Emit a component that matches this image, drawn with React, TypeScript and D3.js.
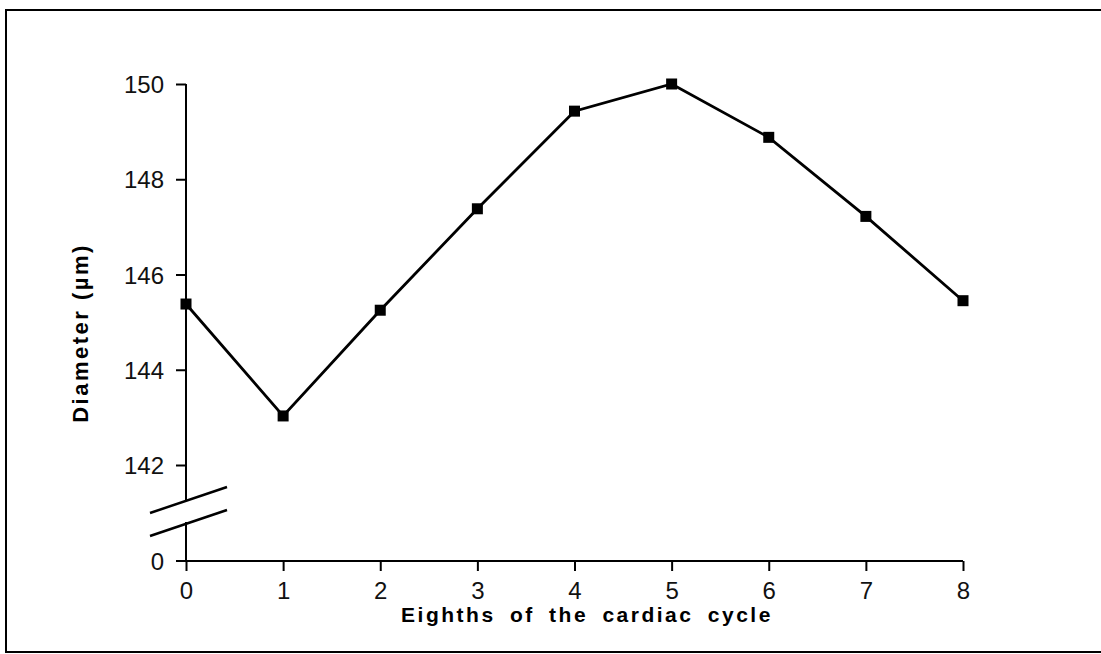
import React, { useEffect, useRef } from 'react';
import * as d3 from 'd3';

// eighths of the cardiac cycle (x) and vessel diameter in µm (y)
const eighths = [0, 1, 2, 3, 4, 5, 6, 7, 8];
const diameter = [145.38, 143.03, 145.25, 147.38, 149.43, 150.0, 148.88, 147.22, 145.45];
const yTicks = [142, 144, 146, 148, 150];
const xTicks = [0, 1, 2, 3, 4, 5, 6, 7, 8];

const W = 1101;
const H = 654;

const App: React.FC = () => {
  const svgRef = useRef<SVGSVGElement>(null);

  useEffect(() => {
    if (!svgRef.current) return;
    const svg = d3.select(svgRef.current);
    svg.selectAll('*').remove();

    const font = '"Liberation Sans", Arial, Helvetica, sans-serif';
    const baseY = 561; // x axis, also the "0" of the broken y axis
    const breakTop = 500;
    const breakBottom = 522;

    // frame around the figure (right edge runs off the page)
    svg.append('path')
      .attr('d', `M${W},10 L6,10 L6,652 L${W},652`)
      .attr('fill', 'none')
      .attr('stroke', '#000')
      .attr('stroke-width', 2);

    const x = d3.scaleLinear().domain([0, 8]).range([186, 963]);
    const y = d3.scaleLinear().domain([142, 150]).range([465, 84]);

    // y axis ticks (upper part)
    const yAxis = svg.append('g')
      .attr('transform', `translate(${x(0)},0)`)
      .call(d3.axisLeft(y).tickValues(yTicks).tickSize(10).tickPadding(12).tickSizeOuter(0));
    yAxis.select('.domain').remove();
    yAxis.selectAll('line').attr('stroke', '#000').attr('stroke-width', 2);
    yAxis.selectAll('text')
      .attr('font-family', font)
      .attr('font-size', 24)
      .attr('fill', '#111')
      .attr('dy', '0.36em');

    // y axis line, broken between 142 and 0
    svg.append('line')
      .attr('x1', x(0)).attr('x2', x(0))
      .attr('y1', y(150)).attr('y2', breakTop)
      .attr('stroke', '#000').attr('stroke-width', 2);
    svg.append('line')
      .attr('x1', x(0)).attr('x2', x(0))
      .attr('y1', breakBottom).attr('y2', baseY)
      .attr('stroke', '#000').attr('stroke-width', 2);
    // break marks
    [0, 23].forEach(off => {
      svg.append('line')
        .attr('x1', 150).attr('y1', 513 + off)
        .attr('x2', 227).attr('y2', 487 + off)
        .attr('stroke', '#000').attr('stroke-width', 2.5);
    });

    // "0" on the y axis, sitting at the x axis
    svg.append('text')
      .attr('x', x(0) - 22)
      .attr('y', baseY)
      .attr('dy', '0.36em')
      .attr('text-anchor', 'end')
      .attr('font-family', font)
      .attr('font-size', 24)
      .attr('fill', '#111')
      .text('0');

    // x axis
    const xAxis = svg.append('g')
      .attr('transform', `translate(0,${baseY})`)
      .call(d3.axisBottom(x).tickValues(xTicks).tickSize(10).tickPadding(11).tickSizeOuter(0));
    xAxis.select('.domain').remove();
    xAxis.selectAll('line').attr('stroke', '#000').attr('stroke-width', 2);
    xAxis.selectAll('text')
      .attr('font-family', font)
      .attr('font-size', 24)
      .attr('fill', '#111');
    svg.append('line')
      .attr('x1', x(0) - 10).attr('x2', x(8))
      .attr('y1', baseY).attr('y2', baseY)
      .attr('stroke', '#000').attr('stroke-width', 2);

    // data line
    const pts = eighths.map((e, i) => ({ x: e, y: diameter[i] }));
    const line = d3.line<{ x: number; y: number }>()
      .x(d => x(d.x))
      .y(d => y(d.y));
    svg.append('path')
      .datum(pts)
      .attr('d', line)
      .attr('fill', 'none')
      .attr('stroke', '#000')
      .attr('stroke-width', 2.8);

    const s = 11;
    svg.selectAll('rect.pt')
      .data(pts)
      .enter()
      .append('rect')
      .attr('class', 'pt')
      .attr('x', d => x(d.x) - s / 2)
      .attr('y', d => y(d.y) - s / 2)
      .attr('width', s)
      .attr('height', s)
      .attr('fill', '#000');

    // axis titles
    svg.append('text')
      .attr('transform', 'translate(88,333) rotate(-90)')
      .attr('text-anchor', 'middle')
      .attr('font-family', font)
      .attr('font-weight', 'bold')
      .attr('font-size', 22)
      .attr('letter-spacing', 2.5)
      .attr('fill', '#000')
      .text('Diameter (µm)');

    svg.append('text')
      .attr('x', 587)
      .attr('y', 622)
      .attr('text-anchor', 'middle')
      .attr('font-family', font)
      .attr('font-weight', 'bold')
      .attr('font-size', 21)
      .attr('letter-spacing', 2.5)
      .attr('word-spacing', 6)
      .attr('fill', '#000')
      .text('Eighths of the cardiac cycle');
  }, []);

  return (
    <svg
      ref={svgRef}
      width={W}
      height={H}
      style={{ position: 'absolute', left: 0, top: 0, background: '#fff' }}
    />
  );
};

export default App;
